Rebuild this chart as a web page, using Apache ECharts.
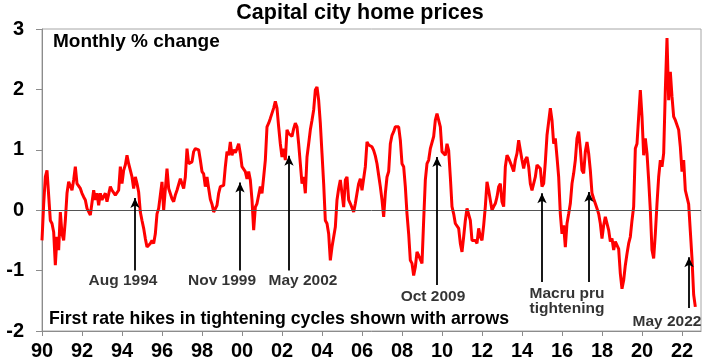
<!DOCTYPE html>
<html>
<head>
<meta charset="utf-8">
<script src="https://cdn.jsdelivr.net/npm/echarts@6/dist/echarts.min.js"></script>
<style>
html,body{margin:0;padding:0;background:#fff;}
#chart{width:720px;height:362px;}
</style>
</head>
<body>
<div id="chart"></div>
<script>
// Monthly % change in capital city home prices, starting Jan 1990
const startYear = 1990;
const v1990s = [
  -0.5, 0.1, 0.55, 0.66, 0.69, -0.17, -0.22, -0.36, -0.91, -0.44, -0.66, -0.03,
  -0.39, -0.5, -0.17, 0.28, 0.47, 0.47, 0.33, 0.5, 0.72, 0.44, 0.41, 0.36,
  0.28, 0.22, 0.17, 0.03, 0, -0.08, -0.08, 0.33, 0.17, 0.28, 0.08, 0.28,
  0.17, 0.2, 0.28, 0.14, 0.11, 0.39, 0.33, 0.3, 0.25, 0.22, 0.33, 0.72,
  0.44, 0.66, 0.75, 0.91, 0.77, 0.77, 0.55, 0.36, 0.55, 0.44, 0.3, -0.03,
  -0.17, -0.3, -0.47, -0.61, -0.64, -0.55, -0.5, -0.55, -0.39, -0.06, 0.03, 0.06,
  0.47, 0, 0, 0.69, 0.36, 0.33, 0.19, 0.14, 0.25, 0.33, 0.36, 0.52,
  0.55, 0.36, 0.55, 1.02, 0.77, 0.77, 0.8, 0.97, 1.02, 1.05, 1.0, 0.83,
  0.64, 0.6, 0.39, 0.55, 0.36, 0.18, 0.1, -0.03, -0.03, 0.08, 0.28, 0.39,
  0.41, 0.41, 0.72, 0.97, 0.91, 1.13, 0.91, 1.0, 0.95, 1.02, 1.1, 0.94
];
const v2000s = [
  0.72, 0.69, 0.64, 0.52, 0.64, 0.5, 0.17, -0.33, 0.05, 0.11, 0.14, 0.39,
  0.28, 0.55, 0.83, 1.38, 1.44, 1.52, 1.55, 1.69, 1.8, 1.69, 1.38, 1.1,
  0.88, 1.02, 0.83, 1.33, 1.27, 1.27, 1.22, 1.35, 1.44, 1.38, 1.1, 0.77,
  0.44, 0.55, 0.28, 0.88, 1.1, 1.33, 1.49, 1.66, 1.99, 2.04, 1.82, 1.44,
  0.94, 0.44, -0.17, -0.22, -0.39, -0.83, -0.61, -0.61, -0.28, 0.17, 0.36, 0.5,
  0.28, 0.05, 0.5, 0.55, 0.17, 0.11, 0.08, -0.03, 0.11, 0.28, 0.44, 0.52,
  0.33, 0.33, 0.72, 1.13, 1.08, 1.1, 1.05, 0.99, 0.9, 0.77, 0.58, 0.39,
  0.17, -0.11, 0.28, 0.55, 0.64, 1.1, 1.24, 1.3, 1.38, 1.38, 1.38, 1.16,
  0.77, 0.72, 0.39, -0.06, -0.39, -0.83, -0.88, -1.08, -0.94, -0.69, -0.75, -0.72,
  -0.88, -0.17, 0.5, 0.77, 0.83, 1.02, 1.02, 1.22, 1.49, 1.6, 1.6, 1.38
];
const v2010s = [
  0.97, 0.94, 0.91, 1.1, 0.99, 0.55, 0.06, -0.06, -0.22, -0.25, -0.3, -0.55,
  -0.69, -0.44, -0.17, 0.03, 0, -0.17, -0.5, -0.47, -0.5, -0.55, -0.3, -0.44,
  -0.5, -0.25, 0.06, 0.47, 0.33, 0.36, 0, 0.06, 0.11, 0.22, 0.39, 0.44,
  0.14, 0.06, 0.72, 0.91, 0.86, 0.83, 0.72, 0.64, 0.83, 0.94, 1.16, 1.13,
  0.83, 0.69, 0.83, 0.88, 0.72, 0.44, 0.33, 0.3, 0.55, 0.75, 0.77, 0.69,
  0.39, 0.44, 0.8, 1.24, 1.27, 1.69, 1.49, 1.1, 1.19, 0.88, 0.55, -0.06,
  -0.39, -0.25, -0.61, -0.22, -0.06, 0.11, 0.44, 0.61, 0.83, 1.19, 1.3, 1.02,
  0.66, 0.61, 0.97, 1.13, 0.94, 0.66, 0.28, 0.19, 0.11, 0.03, -0.06, -0.22,
  -0.47, -0.25, -0.11, -0.11, -0.33, -0.52, -0.47, -0.66, -0.52, -0.52, -0.64, -1.05,
  -1.3, -1.16, -0.91, -0.72, -0.55, -0.44, -0.17, 0.06, 1.02, 1.1, 1.55, 1.99
];
const v2020s = [
  1.55, 0.91, 1.19, 0.94, 0.5, 0, -0.66, -0.8, -0.39, 0.11, 0.55, 0.83,
  0.72, 0.94, 1.99, 2.85, 1.82, 2.29, 1.88, 1.55, 1.49, 1.46, 1.33, 1.05,
  0.64, 0.83, 0.33, 0.33, 0.1, -0.35, -0.8, -1.4, -1.6
];
const xTickYears = [1990, 1992, 1994, 1996, 1998, 2000, 2002, 2004, 2006, 2008, 2010, 2012, 2014, 2016, 2018, 2020, 2022];
const yTicks = [-2, -1, 0, 1, 2, 3];

// Annotated rate hikes: arrow (x, from y, to y) and label (text, x, y) in data units
const arrows = [
  [1994.65, -1.0, 0.2],
  [1999.9, -1.0, 0.46],
  [2002.35, -1.0, 0.9],
  [2009.75, -1.24, 0.88],
  [2015.0, -1.19, 0.28],
  [2017.35, -1.19, 0.3],
  [2022.35, -1.62, -0.78]
];
const arrowLabels = [
  ['Aug 1994', 1994.05, -1.16],
  ['Nov 1999', 1999.0, -1.16],
  ['May 2002', 2003.05, -1.16],
  ['Oct 2009', 2009.55, -1.43],
  ['Macru pru\ntightening', 2016.25, -1.5],
  ['May 2022', 2021.25, -1.84]
];

const allValues = v1990s.concat(v2000s, v2010s, v2020s);
const lineData = allValues.map((v, i) => [startYear + i / 12, v]);

const FONT = '"Liberation Sans", Arial, sans-serif';
const chart = echarts.init(document.getElementById('chart'), null, {renderer: 'canvas'});

const markLineData = [
  [{coord: [xTickYears[0], 0], symbol: 'none'}, {coord: [2022.95, 0], symbol: 'none', lineStyle: {color: '#555', width: 1}}]
].concat(arrows.map(a => [
  {coord: [a[0], a[1]], symbol: 'none'},
  {coord: [a[0], a[2]], symbol: 'arrow'}
]));

chart.setOption({
  animation: false,
  backgroundColor: '#fff',
  grid: {left: 42, right: 19, top: 29, bottom: 31, show: true, borderColor: '#a6a6a6', borderWidth: 1, containLabel: false},
  xAxis: {
    type: 'value', min: 1990, max: 2022.95, interval: 2,
    axisLine: {onZero: false, lineStyle: {color: '#8c8c8c', width: 1}},
    axisTick: {show: true, length: 5, lineStyle: {color: '#8c8c8c'}},
    splitLine: {show: false},
    axisLabel: {
      showMaxLabel: false, margin: 10,
      color: '#000', fontWeight: 'bold', fontSize: 20, fontFamily: FONT,
      formatter: v => xTickYears.indexOf(v) >= 0 ? String(v).slice(2) : ''
    }
  },
  yAxis: {
    type: 'value', min: yTicks[0], max: yTicks[yTicks.length - 1], interval: 1,
    axisLine: {show: true, lineStyle: {color: '#8c8c8c', width: 1}},
    axisTick: {show: true, length: 6, lineStyle: {color: '#8c8c8c'}},
    splitLine: {show: false},
    axisLabel: {margin: 18, color: '#000', fontWeight: 'bold', fontSize: 20, fontFamily: FONT}
  },
  graphic: [
    {type: 'text', left: 'center', top: 2, style: {text: 'Capital city home prices', x: 0, fill: '#000', font: 'bold 21.5px ' + FONT}},
    {type: 'text', left: 53, top: 32, style: {text: 'Monthly % change', fill: '#000', font: 'bold 19px ' + FONT}},
    {type: 'text', left: 49, top: 310, style: {text: 'First rate hikes in tightening cycles shown with arrows', fill: '#000', font: 'bold 17.7px ' + FONT}}
  ],
  series: [
    {
      type: 'line', data: lineData, showSymbol: false, symbol: 'none',
      lineStyle: {color: '#ff0000', width: 3}, z: 3,
      markLine: {
        silent: true, animation: false,
        symbol: ['none', 'arrow'], symbolSize: [7, 10],
        label: {show: false},
        lineStyle: {color: '#000', width: 1.8, type: 'solid'},
        data: markLineData
      }
    },
    {
      type: 'scatter', symbolSize: 1, itemStyle: {color: 'transparent'}, silent: true, z: 5,
      data: arrowLabels.map(l => [l[1], l[2], l[0]]),
      label: {
        show: true, position: 'inside', formatter: p => p.data[2],
        color: '#000', fontWeight: 'bold', fontSize: 15.5, fontFamily: FONT, lineHeight: 15, align: 'center'
      }
    }
  ]
});
</script>
</body>
</html>
